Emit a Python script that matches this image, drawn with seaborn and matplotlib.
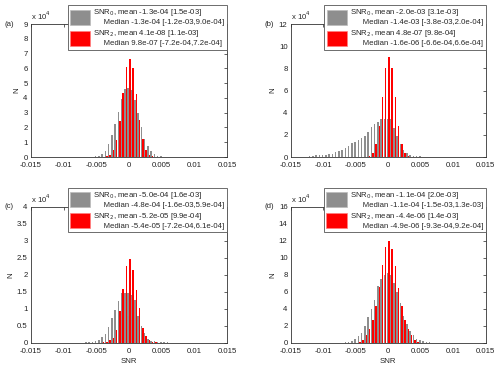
import numpy as np
import pandas as pd
import matplotlib
matplotlib.use('Agg')
import matplotlib.pyplot as plt
from matplotlib.patches import Patch
import seaborn as sns

# SNR bin centres (step 5e-4), from -0.0125 to 0.0100
snr_bins = np.round(np.arange(-0.0125, 0.01001, 0.0005), 4)

# counts per bin, in units of 1e4
gray_a = [0, 0, 0, 0, 0, 0, 0, 0, 0, 0, 0, 0, 0.01, 0.02, 0.03,
          0.06, 0.10, 0.18, 0.39, 0.91, 1.47, 2.22, 3.05, 3.95, 4.60,
          4.70, 4.55, 3.85, 2.95, 2.00, 1.25, 0.72, 0.38, 0.20, 0.10,
          0.05, 0.03, 0.02, 0.01, 0, 0, 0, 0, 0, 0, 0]
red_a = [0, 0, 0, 0, 0, 0, 0, 0, 0, 0, 0, 0, 0, 0, 0,
         0, 0, 0.01, 0.05, 0.12, 0.45, 1.18, 2.44, 4.34, 6.10,
         6.67, 6.00, 4.30, 2.50, 1.20, 0.45, 0.15, 0.05, 0.02, 0,
         0, 0, 0, 0, 0, 0, 0, 0, 0, 0, 0]

gray_b = [0.04, 0.06, 0.12, 0.15, 0.18, 0.20, 0.22, 0.27, 0.30, 0.42,
          0.54, 0.63, 0.81, 0.99, 1.23, 1.38, 1.53, 1.68, 1.93, 2.29,
          2.68, 3.00, 3.20, 3.43, 3.45, 3.45, 3.40, 2.60, 1.90, 1.20,
          0.65, 0.35, 0.20, 0.12, 0.08, 0.05, 0.04, 0.03, 0.02, 0.02,
          0.01, 0.01, 0.01, 0.01, 0, 0]
red_b = [0, 0, 0, 0, 0, 0, 0, 0, 0, 0, 0, 0, 0, 0, 0,
         0, 0, 0, 0.03, 0.10, 0.40, 1.17, 2.80, 5.44, 8.00,
         9.05, 8.00, 5.40, 2.80, 1.15, 0.38, 0.10, 0.03, 0, 0,
         0, 0, 0, 0, 0, 0, 0, 0, 0, 0, 0]

gray_c = [0, 0, 0, 0, 0, 0, 0, 0, 0, 0, 0, 0, 0.02, 0.03, 0.04,
          0.06, 0.10, 0.18, 0.26, 0.47, 0.73, 0.98, 1.22, 1.46, 1.47,
          1.46, 1.40, 1.25, 0.80, 0.50, 0.28, 0.12, 0.07, 0.05, 0.04,
          0.03, 0.02, 0.02, 0, 0, 0, 0, 0, 0, 0, 0]
red_c = [0, 0, 0, 0, 0, 0, 0, 0, 0, 0, 0, 0, 0, 0, 0,
         0, 0, 0.02, 0.04, 0.08, 0.15, 0.37, 0.95, 1.58, 2.25,
         2.47, 2.13, 1.55, 1.03, 0.45, 0.20, 0.08, 0.03, 0.02, 0,
         0, 0, 0, 0, 0, 0, 0, 0, 0, 0, 0]

gray_d = [0, 0, 0, 0, 0, 0, 0, 0.01, 0.01, 0.02,
          0.03, 0.04, 0.06, 0.10, 0.20, 0.45, 0.80, 1.20, 2.00, 3.00,
          4.00, 5.00, 6.70, 7.50, 8.00, 8.20, 8.00, 7.00, 6.00, 4.70,
          3.20, 2.20, 1.40, 0.90, 0.50, 0.30, 0.20, 0.10, 0.06, 0.04,
          0.03, 0.02, 0.02, 0.01, 0.01, 0.01]
red_d = [0, 0, 0, 0, 0, 0, 0, 0, 0, 0, 0, 0, 0, 0, 0,
         0.05, 0.15, 0.40, 0.90, 1.60, 2.70, 4.30, 6.60, 9.20, 11.25,
         12.00, 11.00, 9.10, 6.50, 4.30, 2.70, 1.60, 0.90, 0.40, 0.15,
         0.05, 0, 0, 0, 0, 0, 0, 0, 0, 0, 0]

legend_a = ['SNR$_0$, mean -1.3e-04 [1.5e-03]\n     Median -1.3e-04 [-1.2e-03,9.0e-04]',
            'SNR$_2$, mean 4.1e-08 [1.1e-03]\n     Median 9.8e-07 [-7.2e-04,7.2e-04]']
legend_b = ['SNR$_0$, mean -2.0e-03 [3.1e-03]\n      Median -1.4e-03 [-3.8e-03,2.0e-04]',
            'SNR$_2$, mean 4.8e-07 [9.8e-04]\n      Median -1.6e-06 [-6.6e-04,6.6e-04]']
legend_c = ['SNR$_0$, mean -5.0e-04 [1.6e-03]\n     Median -4.8e-04 [-1.6e-03,5.9e-04]',
            'SNR$_2$, mean -5.2e-05 [9.9e-04]\n     Median -5.4e-05 [-7.2e-04,6.1e-04]']
legend_d = ['SNR$_0$, mean -1.1e-04 [2.0e-03]\n      Median -1.1e-04 [-1.5e-03,1.3e-03]',
            'SNR$_2$, mean -4.4e-06 [1.4e-03]\n      Median -4.9e-06 [-9.3e-04,9.2e-04]']

xticks = [-0.015, -0.01, -0.005, 0, 0.005, 0.01, 0.015]
xtick_labels = ['-0.015', '-0.01', '-0.005', '0', '0.005', '0.01', '0.015']

sns.set_theme(style='white')
plt.rcParams['font.family'] = ['Liberation Sans', 'DejaVu Sans']
plt.rcParams['font.size'] = 5.6
plt.rcParams['axes.unicode_minus'] = False

colors = {'SNR0': '#8e8e8e', 'SNR2': '#ff0000'}

fig = plt.figure(figsize=(5, 3.66), dpi=100)

panels = [
    ('(a)', gray_a, red_a, legend_a, np.arange(0, 10, 1), [0.062, 0.571, 0.392, 0.363], False),
    ('(b)', gray_b, red_b, legend_b, np.arange(0, 13, 2), [0.582, 0.571, 0.389, 0.363], False),
    ('(c)', gray_c, red_c, legend_c, np.arange(0, 4.01, 0.5), [0.062, 0.063, 0.392, 0.372], True),
    ('(d)', gray_d, red_d, legend_d, np.arange(0, 17, 2), [0.582, 0.063, 0.389, 0.372], True),
]

for tag, gray, red, labels, yticks, pos, show_xlabel in panels:
    ax = fig.add_axes(pos)
    df = pd.DataFrame({
        'SNR': np.concatenate([snr_bins, snr_bins]),
        'N': np.concatenate([gray, red]),
        'series': ['SNR0'] * len(snr_bins) + ['SNR2'] * len(snr_bins),
    })
    # each bin holds a gray (left) and a red (right) bar
    sns.histplot(data=df, x='SNR', weights='N', hue='series', hue_order=['SNR0', 'SNR2'],
                 palette=colors, binwidth=0.0005, binrange=(-0.01275, 0.01025),
                 multiple='dodge', shrink=0.92, alpha=1, linewidth=0,
                 legend=False, ax=ax)

    ax.set_xlim(-0.015, 0.015)
    ax.set_ylim(yticks[0], yticks[-1])
    ax.set_xticks(xticks)
    ax.set_xticklabels(xtick_labels)
    ax.set_yticks(yticks)
    ax.set_yticklabels(['%g' % v for v in yticks])
    ax.tick_params(axis='both', direction='in', length=2, width=0.5, top=True, right=True,
                   labelsize=5.6, colors='#222222')
    ax.tick_params(axis='x', pad=3.5)
    ax.tick_params(axis='y', pad=2.5)
    for sp in ax.spines.values():
        sp.set_linewidth(0.6)
        sp.set_color('#333333')

    ax.set_ylabel('N', fontsize=5.6, labelpad=2)
    ax.set_xlabel('SNR' if show_xlabel else '', fontsize=5.6, labelpad=2)
    ax.text(0.0, 1.015, r'x 10$^4$', transform=ax.transAxes, ha='left', va='bottom', fontsize=5.6)
    ax.text(-0.135, 1.0, tag, transform=ax.transAxes, ha='left', va='center', fontsize=5.6)

    handles = [Patch(facecolor=colors['SNR0'], edgecolor='#bbbbbb', linewidth=0.5),
               Patch(facecolor=colors['SNR2'], edgecolor='#ff8080', linewidth=0.5)]
    top = 1 + 19 / (pos[3] * 366)
    leg = ax.legend(handles=handles, labels=labels, loc='upper right',
                    bbox_to_anchor=(1.0, top), borderaxespad=0, fontsize=5.6,
                    handlelength=2.6, handleheight=2.6, handletextpad=0.4,
                    labelspacing=0.25, borderpad=0.3, frameon=True, fancybox=False,
                    framealpha=1)
    leg.get_frame().set_edgecolor('#555555')
    leg.get_frame().set_linewidth(0.6)

fig.savefig('out.png', dpi=100)
